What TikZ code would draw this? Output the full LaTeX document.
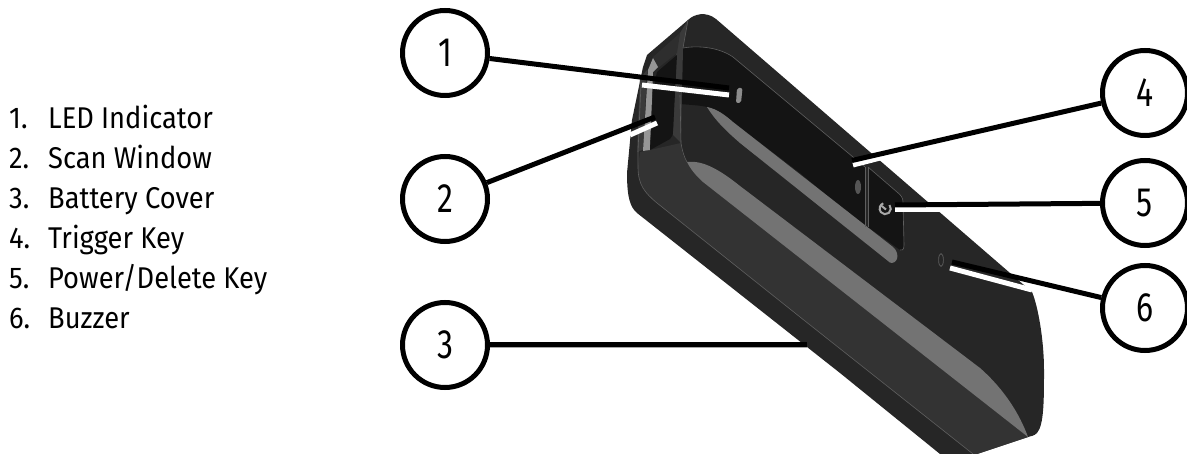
\documentclass[tikz,border=0pt]{standalone}
\usepackage{fontspec}
\newfontfamily\fira[FakeStretch=0.91]{Fira Sans}
\newfontfamily\firanum[FakeStretch=0.78]{Fira Sans}
\definecolor{bodyc}{HTML}{262626}
\definecolor{facec}{HTML}{333333}
\definecolor{darkc}{HTML}{141414}
\definecolor{stripec}{HTML}{737373}
\definecolor{bezelc}{HTML}{3A3A3A}
\definecolor{thinc}{HTML}{5E5E5E}
\definecolor{ledc}{HTML}{8C8C8C}
\definecolor{iconc}{HTML}{A8A8A8}
\definecolor{holec}{HTML}{555555}
\definecolor{patchc}{HTML}{969696}
\definecolor{recessc}{HTML}{2E2E2E}
\tikzset{
  callout/.style={circle,draw=black,line width=5pt,fill=white,minimum size=85pt,inner sep=0pt,font=\firanum\fontsize{41}{41}\selectfont,text=black},
  leader/.style={draw=black,line width=5pt},
  halo/.style={draw=white,line width=5pt},
  listnum/.style={anchor=base west,inner sep=0pt,font=\fira\fontsize{30}{32}\selectfont,text=black},
  thinline/.style={draw=thinc,line width=0.6pt}
}
\begin{document}
\begin{tikzpicture}[x=1pt,y=-1pt]
\useasboundingbox (0,0) rectangle (1187,454);
% body
\fill[bodyc] (688,20) .. controls (694,14) and (706,11) .. (716,19)
  -- (1032,292) .. controls (1038,306) and (1044,340) .. (1044,370)
  .. controls (1044,400) and (1044,425) .. (1037,433) .. controls (1034,436) and (1031,436) .. (1028,437)
  -- (977,454) -- (940,454) -- (840,373) -- (637,213) .. controls (630,207) and (627,197) .. (627,173)
  -- (632,120) -- (643,67) -- (647,55) -- cycle;
% lower face
\fill[facec] (638,167) .. controls (638,185) and (645,193) .. (657,203) -- (800,317) -- (973,454) -- (977,454) -- (1028,437)
  -- (703,180) .. controls (695,172) and (690,168) .. (687,162)
  .. controls (682,155) and (681,148) .. (681,143) -- (650,150) -- (640,152) -- cycle;
\draw[thinline] (638,150) -- (638,167) .. controls (638,185) and (645,193) .. (657,203) -- (800,317) -- (973,454);
% main stripe
\fill[stripec] (687,162) .. controls (703,160) and (720,170) .. (740,186) -- (980,368)
  .. controls (1005,390) and (1020,415) .. (1028,437) -- (703,182) .. controls (695,175) and (690,168) .. (687,162) -- cycle;
% upper dark window
\fill[darkc] (683,48) .. controls (700,45) and (720,48) .. (733,57) -- (865,167) -- (865,227)
  -- (800,173) -- (733,122) .. controls (725,115) and (717,109) .. (707,107)
  .. controls (698,105) and (690,105) .. (680,104) -- cycle;
\draw[thinline] (683,48) .. controls (700,45) and (720,48) .. (733,57) -- (865,167);
% upper stripe
\fill[stripec] (707,107) .. controls (717,109) and (725,115) .. (733,122) -- (893,247)
  .. controls (899,252) and (899,262) .. (892,263) .. controls (890,263) and (889,262) .. (888,261)
  -- (740,143) .. controls (725,130) and (715,120) .. (707,107) -- cycle;
% key area
\fill[darkc] (868,167) -- (897,192) .. controls (901,195) and (903,198) .. (903,202) -- (904,245)
  .. controls (904,250) and (902,251) .. (900,250) -- (868,227) -- cycle;
\draw[thinline] (865,167) -- (865,227) (868,167) -- (868,227);
\draw[thinline] (868,167) -- (897,192) .. controls (901,195) and (903,198) .. (903,202) -- (904,245) .. controls (904,250) and (902,251) .. (900,250);
% power icon
\draw[iconc,line width=2pt] (889.5,205) arc[start angle=-40,end angle=250,radius=5.6];
\draw[iconc,line width=2pt] (886,209.5) -- (880.5,205);
% small oval and LED
\fill[holec] (858,187) ellipse[x radius=3,y radius=7];
\fill[ledc,rounded corners=2pt] (737,88) -- (742.5,88) -- (741,103) -- (736,103) -- cycle;
% buzzer
\draw[thinc,line width=0.7pt] (941,260) ellipse[x radius=2.4,y radius=6.5];
% left side: bezel strip
\fill[bezelc] (688,20) -- (683,48) -- (681,143) -- (673,135) -- (676,54) -- (680,33) -- cycle;
\draw[thinline] (688,20) -- (683,48) (680,95) -- (681,143) .. controls (682,150) and (684,157) .. (687,162);
\fill[bezelc] (647,70) -- (643,150) -- (637,152) -- (640,78) -- cycle;
\draw[thinline] (638,152) -- (641,84);
% scan window
\fill[recessc] (680,33) -- (677,53) -- (658,68) -- (653,57) -- cycle;
\fill[patchc] (648,70) -- (653,58) -- (658,67) -- (653,72) -- (650,150) -- (643,151) -- cycle;
\fill[darkc] (657,72) -- (677,55) -- (673,131) .. controls (673,135) and (672,137) .. (670,139) -- (650,150) -- (653,90) -- cycle;
% leader targets
\coordinate (t1) at (729,88);
\coordinate (t2) at (655,117);
\coordinate (t3) at (807,345);
\coordinate (t4) at (852,160.5);
\coordinate (t5) at (895,205);
\coordinate (t6) at (952,262);
\coordinate (w1a) at (642,85); \coordinate (w1b) at (729,95);
\coordinate (w2a) at (630,135); \coordinate (w2b) at (657,123);
\coordinate (w4a) at (888,156); \coordinate (w4b) at (853,165);
\coordinate (w5a) at (948,210); \coordinate (w5b) at (895,210);
\coordinate (w6a) at (1032,290); \coordinate (w6b) at (950,268);
\coordinate (g3a) at (490,348); \coordinate (g3b) at (808,348);
% callouts
\node[callout] (c1) at (445,53) {1};
\node[callout] (c2) at (445,199) {2};
\node[callout] (c3) at (445,345) {3};
\node[callout] (c4) at (1145,93) {4};
\node[callout] (c5) at (1145,203) {5};
\node[callout] (c6) at (1145,308) {6};
\draw[halo] (w1a) -- (w1b);
\draw[halo] (w2a) -- (w2b);
\draw[halo] (w4a) -- (w4b);
\draw[halo] (w5a) -- (w5b);
\draw[halo] (w6a) -- (w6b);
\draw[draw=gray!70,line width=1pt] (g3a) -- (g3b);
\draw[leader] (c1) -- (t1);
\draw[leader] (c2) -- (t2);
\draw[leader] (c3) -- (t3);
\draw[leader] (c4) -- (t4);
\draw[leader] (c5) -- (t5);
\draw[leader] (c6) -- (t6);
% list
\node[listnum] (n1) at (9,129) {1.};
\node[listnum] (l1) at (48,129) {LED Indicator};
\node[listnum] (n2) at (9,169) {2.};
\node[listnum] (l2) at (48,169) {Scan Window};
\node[listnum] (n3) at (9,209) {3.};
\node[listnum] (l3) at (48,209) {Battery Cover};
\node[listnum] (n4) at (9,249) {4.};
\node[listnum] (l4) at (48,249) {Trigger Key};
\node[listnum] (n5) at (9,289) {5.};
\node[listnum] (l5) at (48,289) {Power/Delete Key};
\node[listnum] (n6) at (9,329) {6.};
\node[listnum] (l6) at (48,329) {Buzzer};
\end{tikzpicture}
\end{document}
